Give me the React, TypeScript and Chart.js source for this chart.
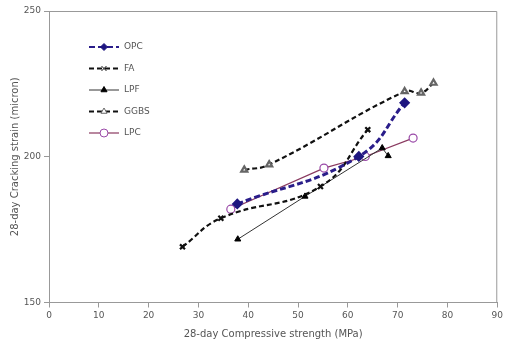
import React, { useEffect, useRef } from 'react';
import { Chart, registerables } from 'chart.js';
Chart.register(...registerables);

const seriesNames = ['OPC', 'FA', 'LPF', 'GGBS', 'LPC'];
const opcX = [37.8, 62.2, 71.4];
const opcY = [183.8, 200.1, 218.5];
const faX = [26.8, 34.5, 54.5, 64.0];
const faY = [169.1, 178.9, 189.8, 209.3];
const lpfX = [37.9, 51.4, 66.9, 68.1];
const lpfY = [171.7, 186.4, 203.0, 200.3];
const ggbsX = [39.2, 44.2, 71.4, 74.7, 77.2];
const ggbsY = [195.5, 197.3, 222.4, 221.9, 225.3];
const lpcX = [36.5, 55.2, 63.5, 73.1];
const lpcY = [182.0, 196.1, 200.1, 206.4];
const xTickValues = [0, 10, 20, 30, 40, 50, 60, 70, 80, 90];
const yTickValues = [150, 200, 250];
const xTitle = '28-day Compressive strength (MPa)';
const yTitle = '28-day Cracking strain (micron)';

const FONT = '"DejaVu Sans", sans-serif';
const TEXT = '#555';
const AXIS = '#999';

const pts = (xs: number[], ys: number[]) => xs.map((x, i) => ({ x, y: ys[i] }));

function drawMarker(ctx: CanvasRenderingContext2D, style: string, x: number, y: number, r: number, fill: string, stroke: string) {
  ctx.save();
  ctx.beginPath();
  ctx.setLineDash([]);
  ctx.lineWidth = 1;
  ctx.strokeStyle = stroke;
  ctx.fillStyle = fill;
  if (style === 'rectRot') {
    ctx.moveTo(x, y - r); ctx.lineTo(x + r, y); ctx.lineTo(x, y + r); ctx.lineTo(x - r, y); ctx.closePath();
    ctx.fill(); ctx.stroke();
  } else if (style === 'crossRot') {
    ctx.moveTo(x - r * 0.7, y - r * 0.7); ctx.lineTo(x + r * 0.7, y + r * 0.7);
    ctx.moveTo(x + r * 0.7, y - r * 0.7); ctx.lineTo(x - r * 0.7, y + r * 0.7);
    ctx.stroke();
  } else if (style === 'triangle') {
    ctx.moveTo(x, y - r); ctx.lineTo(x + r * 0.87, y + r * 0.5); ctx.lineTo(x - r * 0.87, y + r * 0.5); ctx.closePath();
    ctx.fill(); ctx.stroke();
  } else {
    ctx.arc(x, y, r, 0, Math.PI * 2);
    ctx.fill(); ctx.stroke();
  }
  ctx.restore();
}

const framePlugin = {
  id: 'frame',
  beforeDatasetsDraw(chart: any) {
    const { ctx, chartArea: a } = chart;
    ctx.save();
    ctx.strokeStyle = AXIS;
    ctx.lineWidth = 1;
    ctx.beginPath();
    ctx.moveTo(a.left, a.top + 0.5);
    ctx.lineTo(a.right - 0.5, a.top + 0.5);
    ctx.lineTo(a.right - 0.5, a.bottom);
    ctx.stroke();
    ctx.restore();
  },
};

const legendPlugin = {
  id: 'boxLegend',
  afterDraw(chart: any) {
    const { ctx } = chart;
    const x0 = 89, x1 = 119, tx = 124, y0 = 47, dy = 21.5;
    chart.data.datasets.forEach((ds: any, i: number) => {
      const y = y0 + i * dy;
      ctx.save();
      ctx.strokeStyle = ds.borderColor;
      ctx.lineWidth = Math.min(ds.borderWidth, 2);
      ctx.setLineDash(ds.borderDash || []);
      ctx.beginPath();
      ctx.moveTo(x0, y);
      ctx.lineTo(x1, y);
      ctx.stroke();
      ctx.restore();
      drawMarker(ctx, ds.pointStyle, (x0 + x1) / 2, y, ds.pointRadius, ds.pointBackgroundColor, ds.pointBorderColor);
      ctx.save();
      ctx.fillStyle = TEXT;
      ctx.font = `9px ${FONT}`;
      ctx.textBaseline = 'middle';
      ctx.fillText(ds.label, tx, y);
      ctx.restore();
    });
  },
};

export default function App() {
  const ref = useRef<HTMLCanvasElement | null>(null);
  useEffect(() => {
    document.body.style.margin = '0';
    const c = ref.current;
    if (!c) return;
    const chart = new Chart(c, {
      type: 'line',
      data: {
        datasets: [
          {
            label: seriesNames[0], data: pts(opcX, opcY), borderColor: '#2a1d8a', borderWidth: 3, borderDash: [6, 3],
            tension: 0.45, pointStyle: 'rectRot', pointRadius: 3.5, pointBackgroundColor: '#1e1680', pointBorderColor: '#1e1680',
          },
          {
            label: seriesNames[1], data: pts(faX, faY), borderColor: '#111', borderWidth: 2.2, borderDash: [5, 3],
            tension: 0.45, pointStyle: 'crossRot', pointRadius: 3.5, pointBackgroundColor: '#111', pointBorderColor: '#111',
          },
          {
            label: seriesNames[2], data: pts(lpfX, lpfY), borderColor: '#333', borderWidth: 1, tension: 0,
            pointStyle: 'triangle', pointRadius: 3.5, pointBackgroundColor: '#000', pointBorderColor: '#000',
          },
          {
            label: seriesNames[3], data: pts(ggbsX, ggbsY), borderColor: '#111', borderWidth: 2.2, borderDash: [5, 3],
            tension: 0.45, pointStyle: 'triangle', pointRadius: 3.5, pointBackgroundColor: '#fff', pointBorderColor: '#666',
          },
          {
            label: seriesNames[4], data: pts(lpcX, lpcY), borderColor: '#8a3a60', borderWidth: 1.2, tension: 0,
            pointStyle: 'circle', pointRadius: 4, pointBackgroundColor: '#fff', pointBorderColor: '#9a4aa8',
          },
        ],
      },
      options: {
        animation: false,
        responsive: true,
        maintainAspectRatio: false,
        layout: { padding: { top: 11, right: 7, left: 0, bottom: 0 } },
        plugins: { legend: { display: false }, tooltip: { enabled: false } },
        scales: {
          x: {
            type: 'linear', min: 0, max: 90,
            afterBuildTicks: (s: any) => { s.ticks = xTickValues.map((v) => ({ value: v })); },
            afterFit: (s: any) => { s.height = 39.5; },
            ticks: { color: TEXT, font: { family: FONT, size: 9 }, padding: 3 },
            grid: { drawOnChartArea: false, drawTicks: true, tickLength: 5, color: AXIS },
            border: { color: AXIS, width: 1 },
            title: { display: true, text: xTitle, color: TEXT, font: { family: FONT, size: 10 }, padding: { top: 0, bottom: 2 } },
          },
          y: {
            type: 'linear', min: 150, max: 250,
            afterBuildTicks: (s: any) => { s.ticks = yTickValues.map((v) => ({ value: v })); },
            afterFit: (s: any) => { s.width = 49; },
            ticks: { color: TEXT, font: { family: FONT, size: 9 }, padding: 3 },
            grid: { drawOnChartArea: false, drawTicks: true, tickLength: 5, color: AXIS },
            border: { color: AXIS, width: 1 },
            title: { display: true, text: yTitle, color: TEXT, font: { family: FONT, size: 10 }, padding: { top: 9, bottom: 0 } },
          },
        },
      },
      plugins: [framePlugin, legendPlugin],
    } as any);
    return () => chart.destroy();
  }, []);
  return (
    <div style={{ position: 'relative', width: 506, height: 342, background: '#fff' }}>
      <canvas ref={ref} />
    </div>
  );
}
